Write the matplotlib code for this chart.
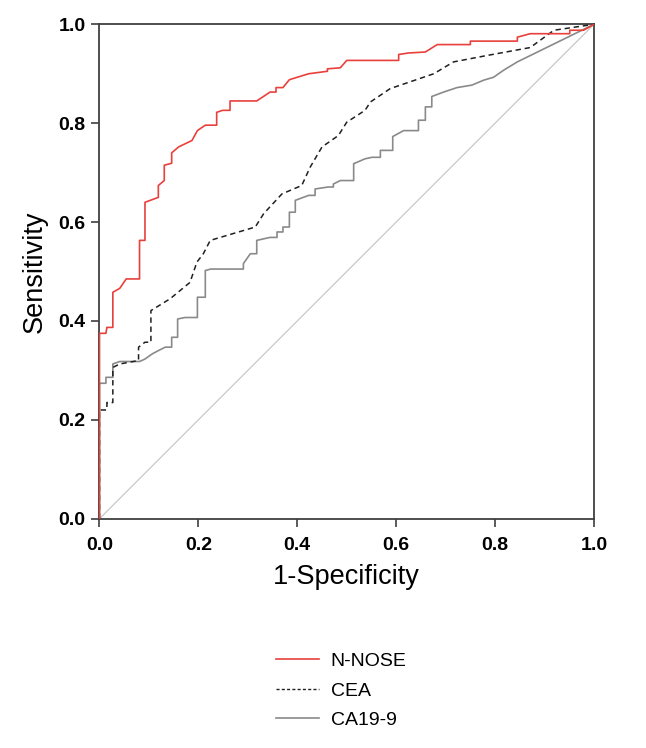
import matplotlib
matplotlib.use("Agg")
import matplotlib.pyplot as plt
from matplotlib.lines import Line2D

plt.rcParams['font.family'] = ['Liberation Sans', 'DejaVu Sans']

# ROC curve vertices (1-Specificity, Sensitivity)
nnose_fpr = [0, 0, 0.013, 0.015, 0.027, 0.027, 0.041, 0.054, 0.081, 0.081, 0.092, 0.092,
             0.119, 0.119, 0.131, 0.131, 0.146, 0.146, 0.16, 0.187, 0.198, 0.214, 0.237,
             0.237, 0.249, 0.264, 0.264, 0.318, 0.345, 0.357, 0.357, 0.371, 0.384, 0.423,
             0.461, 0.461, 0.487, 0.5, 0.605, 0.605, 0.625, 0.659, 0.683, 0.75, 0.75,
             0.845, 0.845, 0.871, 0.951, 0.951, 0.979, 1.0]
nnose_tpr = [0, 0.375, 0.375, 0.387, 0.387, 0.458, 0.466, 0.485, 0.485, 0.563, 0.563, 0.64,
             0.65, 0.674, 0.684, 0.715, 0.719, 0.74, 0.752, 0.765, 0.785, 0.796, 0.796,
             0.822, 0.826, 0.826, 0.845, 0.845, 0.863, 0.863, 0.872, 0.872, 0.888, 0.9,
             0.905, 0.91, 0.912, 0.927, 0.927, 0.939, 0.942, 0.944, 0.959, 0.959, 0.966,
             0.966, 0.974, 0.981, 0.981, 0.988, 0.988, 1.0]

cea_fpr = [0, 0, 0.015, 0.015, 0.027, 0.027, 0.041, 0.079, 0.079, 0.092, 0.104, 0.104,
           0.143, 0.183, 0.197, 0.21, 0.224, 0.315, 0.332, 0.369, 0.409, 0.426, 0.45,
           0.483, 0.5, 0.537, 0.548, 0.588, 0.676, 0.716, 0.784, 0.871, 0.919, 0.973, 1.0]
cea_tpr = [0, 0.22, 0.22, 0.235, 0.235, 0.306, 0.313, 0.32, 0.347, 0.357, 0.357, 0.421,
           0.445, 0.478, 0.519, 0.536, 0.563, 0.59, 0.617, 0.657, 0.674, 0.711, 0.752,
           0.775, 0.802, 0.826, 0.843, 0.87, 0.9, 0.924, 0.937, 0.953, 0.988, 0.996, 1.0]

ca199_fpr = [0, 0, 0.013, 0.013, 0.027, 0.027, 0.041, 0.081, 0.092, 0.106, 0.119, 0.133,
             0.146, 0.146, 0.158, 0.158, 0.173, 0.198, 0.198, 0.214, 0.214, 0.225, 0.291,
             0.291, 0.305, 0.318, 0.318, 0.345, 0.359, 0.359, 0.371, 0.371, 0.384, 0.384,
             0.396, 0.396, 0.423, 0.436, 0.436, 0.463, 0.473, 0.473, 0.487, 0.514, 0.514,
             0.537, 0.551, 0.568, 0.568, 0.593, 0.593, 0.615, 0.645, 0.645, 0.659, 0.659,
             0.672, 0.672, 0.696, 0.723, 0.753, 0.777, 0.797, 0.817, 0.845, 1.0]
ca199_tpr = [0, 0.274, 0.274, 0.286, 0.286, 0.313, 0.318, 0.318, 0.323, 0.333, 0.34, 0.347,
             0.347, 0.367, 0.367, 0.404, 0.407, 0.407, 0.448, 0.448, 0.502, 0.505, 0.505,
             0.516, 0.536, 0.536, 0.563, 0.569, 0.569, 0.58, 0.58, 0.59, 0.59, 0.62,
             0.62, 0.644, 0.654, 0.654, 0.667, 0.671, 0.671, 0.677, 0.684, 0.684, 0.718,
             0.728, 0.731, 0.731, 0.745, 0.745, 0.773, 0.785, 0.785, 0.806, 0.806, 0.833,
             0.833, 0.854, 0.863, 0.872, 0.877, 0.887, 0.893, 0.907, 0.924, 1.0]

ref_line = [0, 1]
ticks = [0.0, 0.2, 0.4, 0.6, 0.8, 1.0]
series_names = ['N-NOSE', 'CEA', 'CA19-9']

fig = plt.figure(figsize=(6.46, 7.48), dpi=100)
ax = fig.add_axes([0.154, 0.3065, 0.7655, 0.661])

red = '#e8413c'
ax.plot(ref_line, ref_line, color='#c8c8c8', lw=0.9, zorder=1)
ax.plot(ca199_fpr, ca199_tpr, color='#8a8a8a', lw=1.2, zorder=2)
ax.plot(cea_fpr, cea_tpr, color='#202020', lw=1.1, ls=(0, (3.5, 2.5)), zorder=3)
ax.plot(nnose_fpr, nnose_tpr, color=red, lw=1.2, zorder=4)

ax.set_xlim(0, 1)
ax.set_ylim(0, 1)
ax.set_xticks(ticks)
ax.set_yticks(ticks)
ax.set_xticklabels([f'{t:.1f}' for t in ticks], fontweight='bold', fontsize=14)
ax.set_yticklabels([f'{t:.1f}' for t in ticks], fontweight='bold', fontsize=14)
ax.tick_params(direction='out', length=6, width=1.2, color='#404040')
ax.tick_params(axis='x', pad=7.5)
ax.tick_params(axis='y', pad=4)
for s in ax.spines.values():
    s.set_color('#404040')
    s.set_linewidth(1.3)

ax.set_xlabel('1-Specificity', fontsize=19.5, labelpad=7)
ax.set_ylabel('Sensitivity', fontsize=19.5, labelpad=8)

handles = [Line2D([], [], color=red, lw=1.2),
           Line2D([], [], color='#202020', lw=1.0, ls=(0, (2.2, 1.6))),
           Line2D([], [], color='#8a8a8a', lw=1.2)]
fig.legend(handles, series_names, loc='upper left', bbox_to_anchor=(0.4275, 0.128),
           frameon=False, fontsize=14, handlelength=2.2, handletextpad=0.6,
           labelspacing=0.62, borderaxespad=0, borderpad=0)

fig.savefig('out.png', dpi=100)
